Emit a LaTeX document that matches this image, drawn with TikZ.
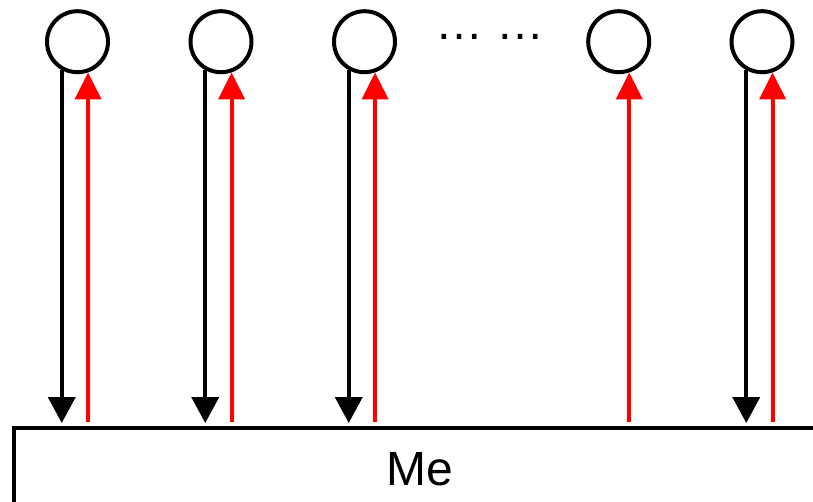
\documentclass[tikz,border=0pt]{standalone}
\usepackage{fontspec}
\setmainfont{Liberation Sans}
\usetikzlibrary{arrows.meta}
\begin{document}
\begin{tikzpicture}[x=1pt,y=1pt,
  ring/.style={circle,draw,line width=4pt,minimum size=61pt,inner sep=0pt},
  down/.style={line width=4pt,black,-{Triangle[width=27pt,length=26pt]}},
  up/.style={line width=4pt,red,-{Triangle[width=26pt,length=27pt]}},
  lbl/.style={font=\fontsize{48}{56}\selectfont,inner sep=0pt,anchor=base}]
\useasboundingbox (0,0) rectangle (813,-501);
\clip (0,0) rectangle (813,-501);
\node[ring] (c1) at (77.5,-41.7) {};
\node[ring] (c2) at (221,-41.7) {};
\node[ring] (c3) at (364.5,-41.7) {};
\node[ring] (c4) at (618.7,-41.7) {};
\node[ring] (c5) at (762,-41.7) {};
\node[lbl] (dots) at (489.7,-39) {… …};
\node[draw,line width=4pt,anchor=north west,minimum width=900pt,minimum height=150pt,inner sep=0pt] (box) at (12,-426.3) {};
\node[lbl] (me) at (420,-485) {Me};
\coordinate (btip) at (0,-423);
\coordinate (rbot) at (0,-422);
\foreach \c in {c1,c2,c3,c5}{
  \draw[down] (\c.241) -- (\c.241 |- btip);
}
\foreach \c in {c1,c2,c3,c4,c5}{
  \draw[up] (\c.289.5 |- rbot) -- (\c.289.5);
}
\end{tikzpicture}
\end{document}
